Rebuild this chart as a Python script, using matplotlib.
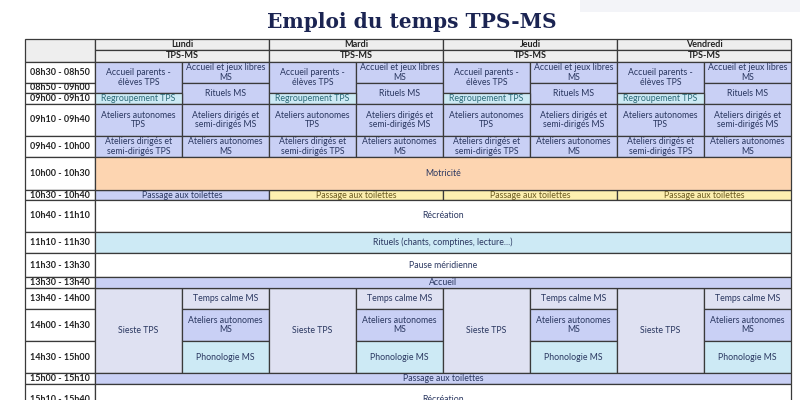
import matplotlib.pyplot as plt
from matplotlib.patches import Rectangle

plt.rcParams['font.family'] = ['Lato', 'DejaVu Sans']

days = ["Lundi", "Mardi", "Jeudi", "Vendredi"]
slots = ["08h30 - 08h50", "08h50 - 09h00", "09h00 - 09h10", "09h10 - 09h40",
         "09h40 - 10h00", "10h00 - 10h30", "10h30 - 10h40", "10h40 - 11h10",
         "11h10 - 11h30", "11h30 - 13h30", "13h30 - 13h40", "13h40 - 14h00",
         "14h00 - 14h30", "14h30 - 15h00", "15h00 - 15h10", "15h10 - 15h40"]
# per-day activities: (first slot, last slot, half 0=TPS / 1=MS, text, style)
day_cells = [
    (0, 1, 0, "Accueil parents -\nélèves TPS", "blue"),
    (0, 0, 1, "Accueil et jeux libres\nMS", "blue"),
    (1, 2, 1, "Rituels MS", "blue"),
    (2, 2, 0, "Regroupement TPS", "teal"),
    (3, 3, 0, "Ateliers autonomes\nTPS", "blue"),
    (3, 3, 1, "Ateliers dirigés et\nsemi-dirigés MS", "blue"),
    (4, 4, 0, "Ateliers dirigés et\nsemi-dirigés TPS", "blue"),
    (4, 4, 1, "Ateliers autonomes\nMS", "blue"),
    (11, 13, 0, "Sieste TPS", "grey"),
    (11, 11, 1, "Temps calme MS", "grey"),
    (12, 12, 1, "Ateliers autonomes\nMS", "blue"),
    (13, 13, 1, "Phonologie MS", "cyan"),
]
toilet_styles = ["blue", "yellow", "yellow", "yellow"]
# activities spanning the whole week
week_cells = [
    (5, "Motricité", "orange"),
    (7, "Récréation", "white"),
    (8, "Rituels (chants, comptines, lecture...)", "cyan"),
    (9, "Pause méridienne", "white"),
    (10, "Accueil", "blue"),
    (14, "Passage aux toilettes", "blue"),
    (15, "Récréation", "white"),
]

# layout (pixels)
row_edges = [62, 83, 93, 104, 136, 157, 190, 200, 232, 253, 277, 288, 309, 341, 373, 384, 416]
day_edges = [95, 269, 443, 617, 791]
x0 = 25
fills = {"blue": "#c9d0f5", "cyan": "#cdeaf5", "teal": "#cdeaf5", "grey": "#dfe1f2",
         "orange": "#fdd5b1", "yellow": "#fdf0b0", "white": "white", "head": "#eeeeee"}
txtc = {"teal": "#2b6a77", "yellow": "#6a5a20"}
ink = "#2a3760"

fig = plt.figure(figsize=(8, 4), dpi=100)
ax = fig.add_axes([0, 0, 1, 1])
ax.set_xlim(0, 800)
ax.set_ylim(400, 0)
ax.axis("off")


def cell(xa, xb, ya, yb, text, style, size=6.3, weight="normal", color=None):
    ax.add_patch(Rectangle((xa, ya), xb - xa, yb - ya, facecolor=fills[style],
                           edgecolor="#3a3a3a", lw=0.9))
    ax.text((xa + xb) / 2, (ya + yb) / 2, text, ha="center", va="center",
            fontsize=size, weight=weight, color=color or txtc.get(style, ink),
            linespacing=1.05)


ax.add_patch(Rectangle((580, -5), 230, 17, facecolor="#f3f4f8", edgecolor="none"))
ax.text(412, 22, "Emploi du temps TPS-MS", ha="center", va="center",
        fontsize=14.5, weight="heavy", color="#1b2452", family="DejaVu Serif")

# header
ax.add_patch(Rectangle((x0, 39), day_edges[0] - x0, 23, facecolor="#eeeeee",
                       edgecolor="#3a3a3a", lw=0.9))
for d, name in enumerate(days):
    cell(day_edges[d], day_edges[d + 1], 39, 50, name, "head", size=6.5, weight="bold", color="#222222")
    cell(day_edges[d], day_edges[d + 1], 50, 62, "TPS-MS", "head", size=6.5, weight="bold", color="#222222")

for i, s in enumerate(slots):
    cell(x0, day_edges[0], row_edges[i], row_edges[i + 1], s, "white",
         size=6.5, weight="bold", color="#222222")

for d in range(4):
    xa, xb = day_edges[d], day_edges[d + 1]
    xm = (xa + xb) / 2
    for r0, r1, half, text, style in day_cells:
        xs = (xa, xm) if half == 0 else (xm, xb)
        cell(xs[0], xs[1], row_edges[r0], row_edges[r1 + 1], text, style)
    cell(xa, xb, row_edges[6], row_edges[7], "Passage aux toilettes", toilet_styles[d])

for r, text, style in week_cells:
    cell(day_edges[0], day_edges[-1], row_edges[r], row_edges[r + 1], text, style)

fig.savefig("out.png", dpi=100)
